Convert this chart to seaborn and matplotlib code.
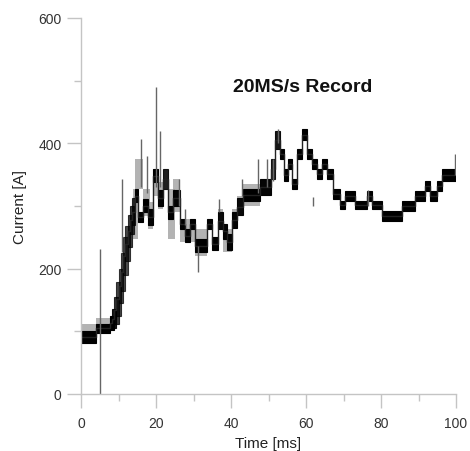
import matplotlib
matplotlib.use("Agg")
import matplotlib.pyplot as plt
import seaborn as sns
import numpy as np
import pandas as pd

# ---- data (time in ms, current in A) ----
# main trace: quantised blocks (start time, end time, low, high)
block_start = [0.0, 4.0, 7.6, 8.2, 8.8, 9.4, 10.0, 10.6, 11.2, 11.8, 12.4, 13.0, 13.6,
               14.4, 15.2, 16.5, 17.9, 19.2, 20.5, 21.9, 23.2, 24.5, 26.4, 27.7,
               29.1, 30.4, 33.6, 34.9, 36.5, 37.9, 38.9, 40.3, 41.6, 43.2, 47.7,
               50.7, 51.7, 53.1, 54.2, 55.1, 56.3, 57.6, 58.9, 60.3, 61.6, 62.9,
               64.3, 65.6, 67.2, 69.1, 70.4, 73.1, 76.3, 77.6, 80.3, 85.6, 89.1,
               91.7, 93.1, 94.9, 96.3]
block_end = [4.0, 7.6, 8.8, 9.4, 10.0, 10.6, 11.2, 11.8, 12.4, 13.0, 13.6, 14.2, 14.4,
             15.2, 16.5, 17.9, 19.2, 20.5, 21.9, 23.2, 24.5, 26.4, 27.7, 29.1,
             30.4, 33.6, 34.9, 36.5, 37.9, 38.9, 40.3, 41.6, 43.2, 47.7, 50.7,
             51.7, 53.1, 54.2, 55.1, 56.3, 57.6, 58.9, 60.3, 61.6, 62.9, 64.3,
             65.6, 67.2, 69.1, 70.4, 73.1, 76.3, 77.6, 80.3, 85.6, 89.1, 91.7,
             93.1, 94.9, 96.3, 100.0]
block_lo = [82, 98, 102, 105, 112, 125, 145, 165, 190, 212, 235, 255, 270,
            306, 274, 290, 270, 338, 300, 327, 280, 300, 263, 242,
            263, 226, 263, 230, 263, 247, 230, 265, 285, 308, 318,
            343, 391, 375, 340, 359, 327, 375, 405, 375, 359, 343,
            359, 343, 311, 295, 308, 295, 308, 295, 276, 292, 308,
            324, 308, 324, 340]
block_hi = [100, 112, 125, 135, 155, 178, 200, 225, 250, 268, 285, 300, 312,
            327, 290, 311, 295, 359, 325, 359, 300, 325, 279, 263,
            279, 247, 279, 250, 290, 272, 255, 290, 312, 327, 343,
            375, 420, 391, 359, 375, 343, 391, 423, 391, 375, 359,
            375, 359, 327, 308, 324, 308, 324, 308, 292, 308, 324,
            340, 324, 340, 359]

# lighter noise envelope around the trace
env_start = [0.0, 4.0, 13.9, 14.4, 16.5, 17.9, 19.2, 20.5, 23.2, 24.5, 26.4, 30.4,
             36.5, 37.9, 40.3, 41.6, 43.2]
env_end = [5.0, 7.6, 15.2, 16.5, 18.4, 19.2, 20.5, 21.9, 25.1, 26.4, 30.4, 33.6,
           37.9, 40.3, 41.6, 43.2, 47.7]
env_lo = [98, 110, 247, 327, 284, 263, 316, 295, 247, 290, 242, 220,
          263, 226, 263, 284, 300]
env_hi = [112, 122, 327, 375, 327, 306, 359, 338, 327, 343, 279, 263,
          295, 263, 295, 316, 335]

# thin spikes
spike_t = [5.1, 10.9, 16.0, 17.6, 19.9, 21.0, 26.1, 27.7, 31.2, 36.9, 43.0, 47.2,
           49.6, 51.2, 52.5, 61.9, 76.6, 99.7]
spike_lo = [0, 227, 330, 320, 330, 330, 300, 270, 195, 290, 316, 320,
            330, 340, 400, 300, 300, 350]
spike_hi = [231, 343, 407, 380, 490, 420, 343, 295, 236, 311, 343, 375,
            375, 375, 423, 314, 325, 383]

x_ticks = [0, 20, 40, 60, 80, 100]
y_ticks = [0, 200, 400, 600]
title_text = "20MS/s Record"
x_label = "Time [ms]"
y_label = "Current [A]"

# ---- styling ----
sns.set_style("ticks")
plt.rcParams['font.family'] = ['Liberation Sans', 'DejaVu Sans']

fig = plt.figure(figsize=(4.70, 4.52), dpi=100)
ax = fig.add_axes([81 / 470, 57 / 452, 375 / 470, 376 / 452])

t0 = np.array(block_start)
t1 = np.array(block_end)
lo = np.array(block_lo, dtype=float)
hi = np.array(block_hi, dtype=float)
h = hi - lo
alphas = np.clip(0.5 + 12.0 / h, 0, 1)

# noise envelope (grey)
e0 = np.array(env_start)
e1 = np.array(env_end)
elo = np.array(env_lo, dtype=float)
ehi = np.array(env_hi, dtype=float)
ax.bar(e0, ehi - elo, bottom=elo, width=e1 - e0, align="edge",
       color="#9a9a9a", alpha=0.75, linewidth=0)

# connecting trace through block centres
trace = pd.DataFrame({"t": np.append(t0, t1[-1]),
                      "I": np.append((lo + hi) / 2, (lo[-1] + hi[-1]) / 2)})
sns.lineplot(data=trace, x="t", y="I", ax=ax, sort=False, estimator=None,
             drawstyle="steps-post", color="#222222", linewidth=1.0)

# blocks
for a, b, l, hh, al in zip(t0, t1, lo, h, alphas):
    ax.bar(a, hh, bottom=l, width=b - a, align="edge", color="black",
           edgecolor="black", alpha=al, linewidth=0.8)

# spikes
ax.vlines(spike_t, spike_lo, spike_hi, color="#666666", linewidth=1.0)

ax.set_xlim(0, 100)
ax.set_ylim(0, 600)
ax.set_xticks(x_ticks)
ax.set_yticks(y_ticks)
ax.set_xticks([10, 30, 50, 70, 90], minor=True)
ax.set_yticks([100, 300, 500], minor=True)

for side in ["top", "right"]:
    ax.spines[side].set_visible(False)
for side in ["left", "bottom"]:
    ax.spines[side].set_color("#c4c4c4")
    ax.spines[side].set_linewidth(1.0)

ax.tick_params(which="major", direction="out", length=10, width=1.0,
               color="#c4c4c4", labelsize=10, labelcolor="#333333", pad=4)
ax.tick_params(which="minor", direction="out", length=5, width=1.0,
               color="#c4c4c4")
ax.tick_params(axis="x", which="major", pad=6)

ax.set_xlabel(x_label, fontsize=11, color="#222222", labelpad=4)
ax.set_ylabel(y_label, fontsize=11, color="#222222", labelpad=8)

ax.text(59, 491, title_text, fontsize=14, fontweight="bold", ha="center",
        va="center", color="#111111")

fig.savefig("out.png", dpi=100, facecolor="white")
